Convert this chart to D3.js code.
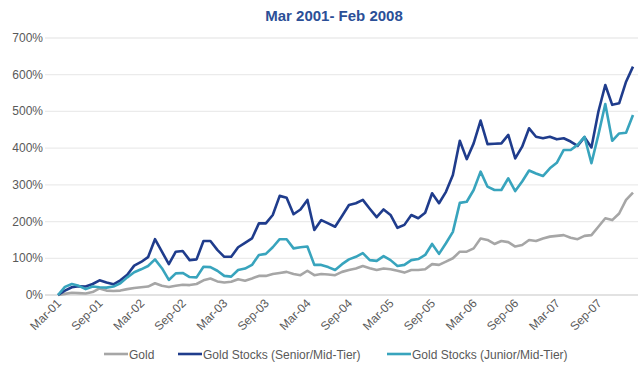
<!DOCTYPE html>
<html><head><meta charset="utf-8">
<script src="https://cdn.jsdelivr.net/npm/d3@7"></script>
<style>
body{margin:0;background:#fff;}
svg text{font-family:"Liberation Sans Narrow","Arial Narrow","Liberation Sans",Arial,sans-serif;}
</style></head>
<body><svg id="c" width="640" height="365"></svg>
<script>
const title = "Mar 2001- Feb 2008";
const startMonth = "2001-03";
const tickLabels = ["Mar-01","Sep-01","Mar-02","Sep-02","Mar-03","Sep-03","Mar-04","Sep-04","Mar-05","Sep-05","Mar-06","Sep-06","Mar-07","Sep-07"];
const yTicks = [0,100,200,300,400,500,600,700];
const seriesNames = ["Gold","Gold Stocks (Senior/Mid-Tier)","Gold Stocks (Junior/Mid-Tier)"];
const seriesColors = ["#a6a6a6","#1f3c8c","#38a4bd"];
const gold = [0,3,6,5,4,8,18,12,11,12,16,19,21,23,32,25,22,25,28,27,30,40,45,37,34,36,43,39,45,52,52,57,60,63,57,54,66,54,57,56,54,63,68,72,79,73,68,72,70,66,61,68,68,70,84,82,91,100,118,118,127,154,150,139,147,144,132,136,150,147,154,159,161,163,156,152,161,163,186,209,204,222,259,279];
const senior = [0,12,21,24,23,30,40,34,29,40,55,80,90,103,152,118,84,118,120,95,97,147,147,123,104,104,130,142,154,195,195,218,270,265,220,233,259,177,204,195,186,215,245,250,259,235,212,233,218,183,191,218,209,224,277,250,281,327,420,370,413,475,411,412,413,436,372,404,454,431,427,431,424,427,418,406,430,402,499,572,518,522,581,622];
const junior = [0,22,30,25,16,23,21,20,23,32,48,62,70,79,97,73,41,59,60,49,48,77,76,66,52,50,68,72,82,109,112,130,152,152,127,130,132,82,82,76,68,84,97,104,114,95,93,106,95,79,82,95,98,109,139,112,141,172,251,254,286,336,295,286,286,318,283,309,339,331,324,345,360,395,395,409,431,359,436,520,420,440,442,490];

const svg = d3.select("#c");
const n = gold.length;
const x = d3.scaleLinear().domain([0, n-1]).range([58, 633]);
const y = d3.scaleLinear().domain([0, 700]).range([295, 38]);

svg.append("text").attr("x", 334).attr("y", 21).attr("text-anchor","middle")
  .attr("font-size", 15).attr("font-weight","bold").attr("fill","#2b4f97").text(title);

// grid
svg.append("g").selectAll("line").data(yTicks).join("line")
  .attr("x1", 45).attr("x2", 638).attr("y1", d=>y(d)).attr("y2", d=>y(d))
  .attr("stroke", d=> d===0 ? "#d9d9d9" : "#ebebeb").attr("stroke-width", 1.3);
svg.append("g").selectAll("text").data(yTicks).join("text")
  .attr("x", 43).attr("y", d=>y(d)+4).attr("text-anchor","end")
  .attr("font-size", 12).attr("fill","#595959").text(d=>d+"%");

// x labels
svg.append("g").selectAll("text").data(tickLabels).join("text")
  .attr("transform", (d,i)=>`translate(${x(i*6)+4},${304}) rotate(-45)`)
  .attr("text-anchor","end").attr("font-size", 12).attr("fill","#595959").text(d=>d);

const line = d3.line().x((d,i)=>x(i)).y(d=>y(d));
[gold, senior, junior].forEach((s,k)=>{
  svg.append("path").datum(s).attr("d", line).attr("fill","none")
    .attr("stroke", seriesColors[k]).attr("stroke-width", 2.6).attr("stroke-linejoin","round");
});

// legend
const legX = [104, 178, 387];
const lg = svg.append("g");
seriesNames.forEach((nm,k)=>{
  lg.append("line").attr("x1", legX[k]).attr("x2", legX[k]+24).attr("y1", 354).attr("y2", 354)
    .attr("stroke", seriesColors[k]).attr("stroke-width", 2.6);
  lg.append("text").attr("x", legX[k]+25).attr("y", 358.5).attr("font-size", 12)
    .attr("fill","#595959").text(nm);
});
</script></body></html>
